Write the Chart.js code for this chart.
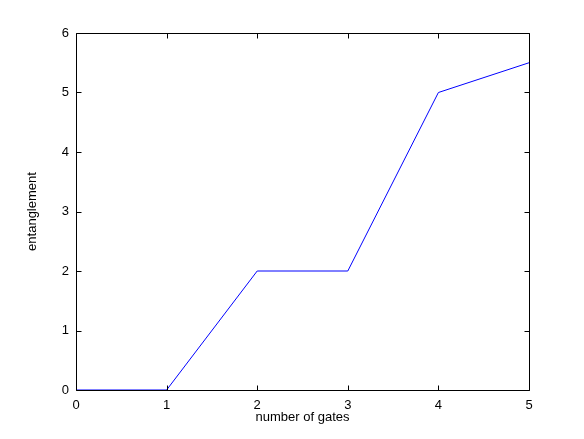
<!DOCTYPE html>
<html><head><meta charset="utf-8">
<script src="https://cdn.jsdelivr.net/npm/chart.js@4"></script>
<style>html,body{margin:0;padding:0;background:#fff}#wrap{width:584px;height:439px}</style>
</head><body><div id="wrap"><canvas id="c" width="584" height="439"></canvas></div>
<script>
const gates = [0, 1, 2, 3, 4, 5];
const entanglement = [0, 0, 2, 2, 5, 5.5];
const xTicks = [0, 1, 2, 3, 4, 5];
const yTicks = [0, 1, 2, 3, 4, 5, 6];

const boxPlugin = {
  id: 'box',
  afterDatasetsDraw(chart) {
    const {ctx, chartArea: a, scales: {x, y}} = chart;
    ctx.save();
    ctx.strokeStyle = '#000';
    ctx.lineWidth = 1;
    ctx.beginPath();
    const L = Math.round(a.left) + 0.5, R = Math.round(a.right) + 0.5;
    const T = Math.round(a.top) + 0.5, B = Math.round(a.bottom) + 0.5;
    ctx.rect(L, T, R - L, B - T);
    const tl = 5;
    xTicks.forEach(v => {
      const px = Math.round(x.getPixelForValue(v)) + 0.5;
      ctx.moveTo(px, B); ctx.lineTo(px, B - tl);
      ctx.moveTo(px, T); ctx.lineTo(px, T + tl);
    });
    yTicks.forEach(v => {
      const py = Math.round(y.getPixelForValue(v)) + 0.5;
      ctx.moveTo(L, py); ctx.lineTo(L + tl, py);
      ctx.moveTo(R, py); ctx.lineTo(R - tl, py);
    });
    ctx.stroke();
    ctx.restore();
  }
};

const font = {family: 'Liberation Sans, Arial, Helvetica, sans-serif', size: 13};

new Chart(document.getElementById('c'), {
  type: 'line',
  data: {
    datasets: [{
      data: gates.map((g, i) => ({x: g, y: entanglement[i]})),
      borderColor: '#0000ff',
      borderWidth: 1,
      pointRadius: 0,
      fill: false,
      tension: 0
    }]
  },
  options: {
    responsive: false,
    animation: false,
    devicePixelRatio: 1,
    plugins: {legend: {display: false}, tooltip: {enabled: false}},
    layout: {padding: {top: 33, right: 55, left: 0, bottom: 0}},
    scales: {
      x: {
        type: 'linear', min: 0, max: 5,
        afterFit(s) { s.height = 49; },
        afterBuildTicks(s) { s.ticks = xTicks.map(v => ({value: v})); },
        grid: {display: false, drawTicks: false},
        border: {display: false},
        ticks: {color: '#000', font, padding: 8, maxRotation: 0},
        title: {display: true, text: 'number of gates', color: '#000', font, padding: {top: 0, bottom: 14}}
      },
      y: {
        type: 'linear', min: 0, max: 6,
        afterFit(s) { s.width = 76; },
        afterBuildTicks(s) { s.ticks = yTicks.map(v => ({value: v})); },
        grid: {display: false, drawTicks: false},
        border: {display: false},
        ticks: {color: '#000', font, padding: 7},
        title: {display: true, text: 'entanglement', color: '#000', font, padding: {top: 25, bottom: 0}}
      }
    }
  },
  plugins: [boxPlugin]
});
</script></body></html>
